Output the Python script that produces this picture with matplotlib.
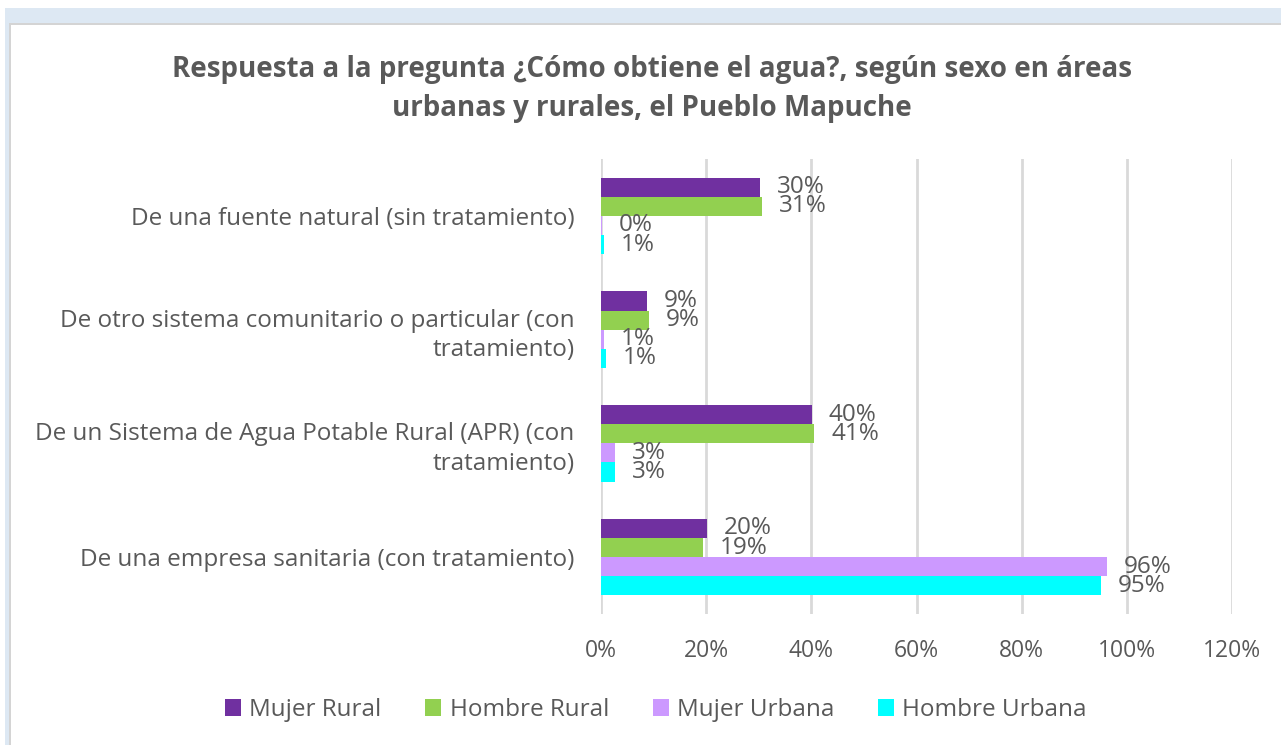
import matplotlib
matplotlib.use('Agg')
import matplotlib.pyplot as plt
from matplotlib.patches import Rectangle
import numpy as np

# Datos
categorias = ['De una fuente natural (sin tratamiento)',
              'De otro sistema comunitario o particular (con\ntratamiento)',
              'De un Sistema de Agua Potable Rural (APR) (con\ntratamiento)',
              'De una empresa sanitaria (con tratamiento)']
series = ['Mujer Rural', 'Hombre Rural', 'Mujer Urbana', 'Hombre Urbana']
mujer_rural = [30.2, 8.7, 40.1, 20.1]
hombre_rural = [30.6, 9.1, 40.6, 19.4]
mujer_urbana = [0.2, 0.6, 2.6, 96.2]
hombre_urbana = [0.6, 1.0, 2.7, 95.1]
valores = [mujer_rural, hombre_rural, mujer_urbana, hombre_urbana]
colores = ['#7030a0', '#92d050', '#cc99ff', '#00ffff']
xticks = [0, 20, 40, 60, 80, 100, 120]

plt.rcParams['font.family'] = ['Open Sans', 'DejaVu Sans']
gris = '#595959'

fig = plt.figure(figsize=(12.81, 7.45), dpi=100)
W, H = 1281, 745

# marco tipo captura de Excel
fig.patches.append(Rectangle((5 / W, 1 - 23 / H), 1, 15 / H, transform=fig.transFigure,
                             facecolor='#dde8f3', edgecolor='none', zorder=0))
fig.patches.append(Rectangle((9 / W, 1 - 25 / H), 1, 2 / H, transform=fig.transFigure,
                             facecolor='#d4d4d4', edgecolor='none', zorder=0))
fig.patches.append(Rectangle((9 / W, 0), 2 / W, 1 - 23 / H, transform=fig.transFigure,
                             facecolor='#d4d4d4', edgecolor='none', zorder=0))
fig.patches.append(Rectangle((5 / W, 0), 4 / W, 1 - 8 / H, transform=fig.transFigure,
                             facecolor='#dde8f3', edgecolor='none', zorder=0))

ax = fig.add_axes([601 / W, 1 - 614 / H, (1232 - 601) / W, (614 - 159) / H])

y = np.arange(len(categorias))
h = 0.168
for i, (serie, vals, c) in enumerate(zip(series, valores, colores)):
    pos = y - 1.5 * h + i * h
    ax.barh(pos, vals, height=h, color=c, label=serie, zorder=3)
    for p, v in zip(pos, vals):
        ax.text(v + 3.2, p, f'{round(v):.0f}%', va='center', ha='left',
                fontsize=17.5, color=gris, zorder=4)

ax.set_xlim(0, 120)
ax.set_ylim(3.5, -0.5)
ax.set_xticks(xticks)
ax.set_xticklabels([f'{t}%' for t in xticks])
ax.set_yticks(y)
ax.set_yticklabels(categorias, fontsize=17.5, color=gris, ha='right', linespacing=1.3)
ax.tick_params(axis='x', length=0, pad=18, labelsize=16.5, labelcolor=gris)
ax.tick_params(axis='y', length=0, pad=19)
ax.grid(axis='x', color='#d9d9d9', linewidth=2, zorder=0)
for s in ax.spines.values():
    s.set_visible(False)

fig.text(652 / W, 1 - 89 / H,
         'Respuesta a la pregunta ¿Cómo obtiene el agua?, según sexo en áreas\nurbanas y rurales, el Pueblo Mapuche',
         ha='center', va='center', fontsize=20, fontweight='bold', color=gris, linespacing=1.45)

fig.legend(loc='center', bbox_to_anchor=(656 / W, 1 - 710 / H), ncol=4, frameon=False,
           fontsize=17.5, labelcolor=gris, handlelength=0.65, handleheight=0.65,
           handletextpad=0.35, columnspacing=1.8)

plt.savefig('out.png', dpi=100)
plt.close()
